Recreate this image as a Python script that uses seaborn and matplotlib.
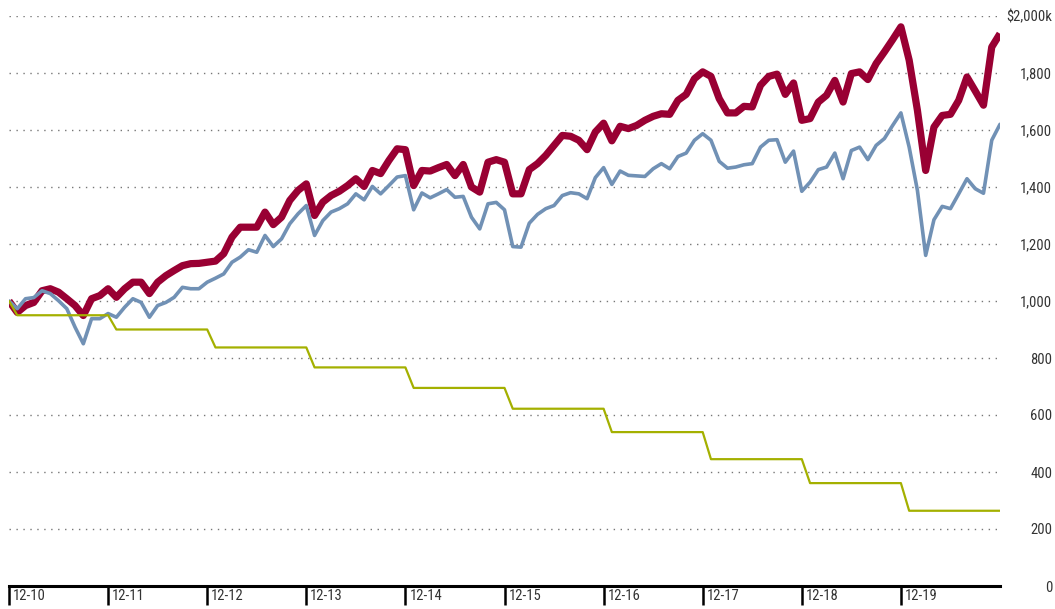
import numpy as np
import pandas as pd
import matplotlib
matplotlib.use("Agg")
import matplotlib.pyplot as plt
import matplotlib.transforms as mtransforms
from matplotlib import font_manager
import seaborn as sns

# monthly values, Dec 2010 .. Dec 2020 (thousands of $)
red_values = [
    1000, 960, 984, 995, 1036, 1043, 1031, 1008, 984, 949, 1008, 1019, 1043, 1013, 1043,
    1066, 1066, 1026, 1066, 1089, 1107, 1124, 1131, 1132, 1136,
    1140, 1166, 1224, 1259, 1259, 1259, 1312, 1268, 1294, 1353, 1388, 1411, 1300, 1347, 1370,
    1385, 1405, 1429, 1402, 1458, 1447, 1493, 1534, 1531,
    1405, 1458, 1456, 1468, 1479, 1440, 1479, 1400, 1382, 1487, 1496, 1487, 1376, 1376, 1461,
    1482, 1511, 1546, 1581, 1578, 1564, 1531, 1593, 1624,
    1562, 1613, 1605, 1616, 1634, 1648, 1657, 1655, 1704, 1725, 1780, 1804, 1788, 1710, 1660,
    1660, 1683, 1681, 1757, 1788, 1796, 1725, 1765, 1634,
    1640, 1698, 1722, 1774, 1698, 1798, 1804, 1777, 1833, 1874, 1917, 1962, 1845, 1669, 1458,
    1610, 1651, 1655, 1704, 1786, 1737, 1687, 1891, 1938,
]
blue_values = [
    1000, 973, 1008, 1012, 1036, 1026, 1001, 973, 908, 850, 938, 938, 956, 943, 978,
    1008, 995, 943, 984, 995, 1013, 1048, 1043, 1043, 1066,
    1080, 1095, 1136, 1154, 1180, 1171, 1230, 1191, 1218, 1271, 1306, 1335, 1230, 1282, 1312,
    1324, 1341, 1376, 1355, 1402, 1376, 1405, 1435, 1440,
    1320, 1379, 1362, 1376, 1391, 1364, 1367, 1294, 1253, 1341, 1346, 1320, 1191, 1189, 1273,
    1304, 1324, 1335, 1370, 1380, 1376, 1359, 1433, 1468,
    1409, 1456, 1441, 1439, 1437, 1464, 1482, 1464, 1507, 1519, 1564, 1587, 1564, 1490, 1466,
    1470, 1478, 1482, 1540, 1564, 1566, 1487, 1526, 1385,
    1417, 1461, 1470, 1519, 1429, 1528, 1540, 1496, 1546, 1570, 1616, 1660, 1540, 1388, 1160,
    1285, 1332, 1324, 1376, 1429, 1394, 1378, 1564, 1620,
]
# green line: yearly levels, each held for 12 months
green_levels = [1000, 950, 900, 837, 767, 695, 622, 540, 445, 361, 264]
green_months = [1] + [12] * 10

year_labels = ["12-10", "12-11", "12-12", "12-13", "12-14",
               "12-15", "12-16", "12-17", "12-18", "12-19"]
y_ticks = [0, 200, 400, 600, 800, 1000, 1200, 1400, 1600, 1800, 2000]
y_labels = ["0", "200", "400", "600", "800", "1,000", "1,200",
            "1,400", "1,600", "1,800", "$2,000k"]

green_values = np.repeat(green_levels, green_months)
months = np.arange(len(red_values))
df = pd.DataFrame({"month": months, "red": red_values,
                   "blue": blue_values, "green": green_values})

sns.set_style("white")
installed = {f.name for f in font_manager.fontManager.ttflist}
narrow = [f for f in ["Liberation Sans Narrow", "Roboto Condensed"] if f in installed]
plt.rcParams["font.family"] = narrow + ["Liberation Sans", "DejaVu Sans"]

fig = plt.figure(figsize=(10.55, 6.09), dpi=100)
ax = fig.add_axes([9 / 1055, 1 - 586 / 609, 991 / 1055, 570 / 609])

sns.lineplot(data=df, x="month", y="red", ax=ax, color="#990033",
             linewidth=5.2, solid_capstyle="butt", zorder=3)
sns.lineplot(data=df, x="month", y="blue", ax=ax, color="#7191B5",
             linewidth=2.6, zorder=4)
sns.lineplot(data=df, x="month", y="green", ax=ax, color="#A4B000",
             linewidth=1.6, zorder=5)

ax.set_xlim(0, 120)
ax.set_ylim(0, 2000)
ax.set_xlabel("")
ax.set_ylabel("")

# dotted grid
for v in y_ticks[1:]:
    ax.axhline(v, color="#777777", linewidth=1.0, linestyle=(0, (1, 4)), zorder=1)

for s in ["top", "left", "right"]:
    ax.spines[s].set_visible(False)
ax.spines["bottom"].set_color("black")
ax.spines["bottom"].set_linewidth(2.2)
ax.spines["bottom"].set_zorder(6)

ax.set_xticks(np.arange(len(year_labels)) * 12)
ax.set_xticklabels(year_labels, ha="left", fontsize=10.5, color="#333333")
ax.tick_params(axis="x", bottom=True, direction="out", length=14, width=1.8,
               color="black", pad=-12)
offset = mtransforms.ScaledTranslation(4 / 100, 0, fig.dpi_scale_trans)
for lab in ax.get_xticklabels():
    lab.set_transform(lab.get_transform() + offset)

ax.yaxis.tick_right()
ax.set_yticks(y_ticks)
ax.set_yticklabels(y_labels, fontsize=10.5, color="#333333")
ax.tick_params(axis="y", right=False, length=0, pad=37.5)
for lab in ax.get_yticklabels():
    lab.set_horizontalalignment("right")

fig.savefig("out.png", dpi=100)
